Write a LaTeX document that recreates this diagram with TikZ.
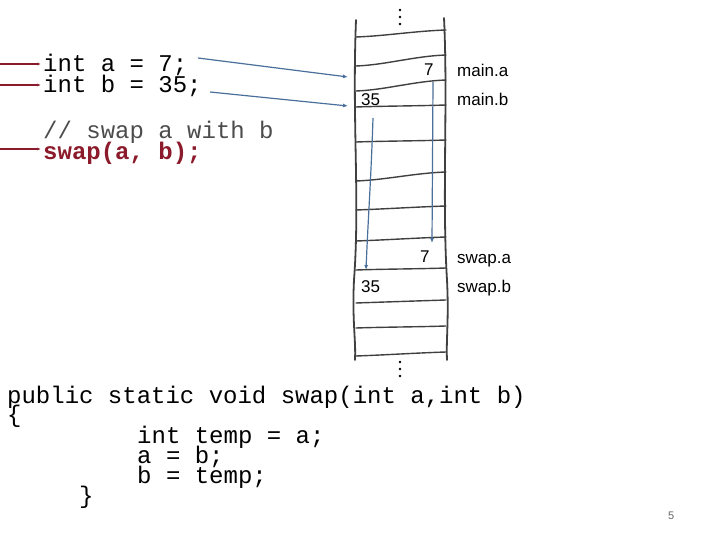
\documentclass[tikz,border=0pt]{standalone}
\usepackage{fontspec}
\setmainfont{Liberation Sans}
\setmonofont{Liberation Mono}
\usetikzlibrary{arrows.meta}
\definecolor{dred}{HTML}{8B1A2B}
\definecolor{ablue}{HTML}{4A6F9A}
\tikzset{
 code/.style={anchor=base west,inner sep=0pt,font=\ttfamily\fontsize{24}{21}\selectfont},
 lab/.style={anchor=base west,inner sep=0pt,font=\fontsize{17}{18}\selectfont},
 rail/.style={line width=1.8pt,color=black!75,line cap=round},
 rung/.style={line width=1.4pt,color=black!75,line cap=round},
 redarr/.style={dred,line width=1.2pt,-{Latex[length=4pt,width=3pt]}},
 bluearr/.style={ablue,line width=1.2pt,-{Latex[length=5pt,width=4pt]}},
}
\begin{document}
\begin{tikzpicture}[x=1pt,y=-1pt]
\useasboundingbox (0,0) rectangle (720,540);
% ladder
\draw[rail] (356,20) .. controls (352,120) and (360,200) .. (354,280) .. controls (352,320) and (356,340) .. (355,360);
\draw[rail] (444,18) .. controls (448,100) and (442,200) .. (447,280) .. controls (449,320) and (446,340) .. (447,360);
\foreach \yl/\yr in {37/30, 66/55, 91/80, 107/105, 142/140, 181/172, 210/206, 241/237, 270/268, 303/300, 328/326, 356/352}{
  \draw[rung] (356,\yl) .. controls (385,\yl-1) and (415,\yr+1) .. (446,\yr);}
\foreach \yy in {10,17,24} {\fill (400,\yy) circle (1.3);}
\foreach \yy in {362,369,376} {\fill (400,\yy) circle (1.3);}
% labels
\node[lab] (v7a) at (424,76) {7};
\node[lab] (v35a) at (361,106) {35};
\node[lab] (ma) at (457,77) {main.a};
\node[lab] (mb) at (457,106) {main.b};
\node[lab] (v7b) at (420,262) {7};
\node[lab] (v35b) at (361,292) {35};
\node[lab] (sa) at (457,263) {swap.a};
\node[lab] (sb) at (457,292) {swap.b};
\coordinate (d1s) at (433,82); \coordinate (d1e) at (432,243);
\coordinate (d2s) at (373,118); \coordinate (d2e) at (366,270);
\draw[bluearr] (d1s) -- (d1e);
\draw[bluearr] (d2s) .. controls (371,180) and (368,220) .. (d2e);
% code
\node[code] (la) at (43,72) {int a = 7;};
\node[code] (lb) at (43,93) {int b = 35;};
\node[code,color=black!70] (lc) at (43,139) {// swap a with b};
\node[code,color=dred,font=\ttfamily\bfseries\fontsize{24}{21}\selectfont] (ld) at (43,160) {swap(a, b);};
\coordinate (r1) at (0,64); \coordinate (r2) at (0,85); \coordinate (r3) at (0,149);
\draw[redarr] (r1) -- (41,64);
\draw[redarr] (r2) -- (41,85);
\draw[redarr] (r3) -- (41,149);
\coordinate (b1) at (198,58); \coordinate (e1) at (348,77);
\coordinate (b2) at (210,92); \coordinate (e2) at (348,106);
\draw[bluearr] (b1) -- (e1);
\draw[bluearr] (b2) -- (e2);
\node[code] (p1) at (7,403) {public static void swap(int a,int b)};
\node[code] (p2) at (7,422) {\{};
\node[code] (p3) at (137,443) {int temp = a;};
\node[code] (p4) at (137,463) {a = b;};
\node[code] (p5) at (137,483) {b = temp;};
\node[code] (p6) at (79,503) {\}};
\node[lab,color=black!60,font=\fontsize{11}{12}\selectfont] (pg) at (668,519) {5};
\end{tikzpicture}
\end{document}
